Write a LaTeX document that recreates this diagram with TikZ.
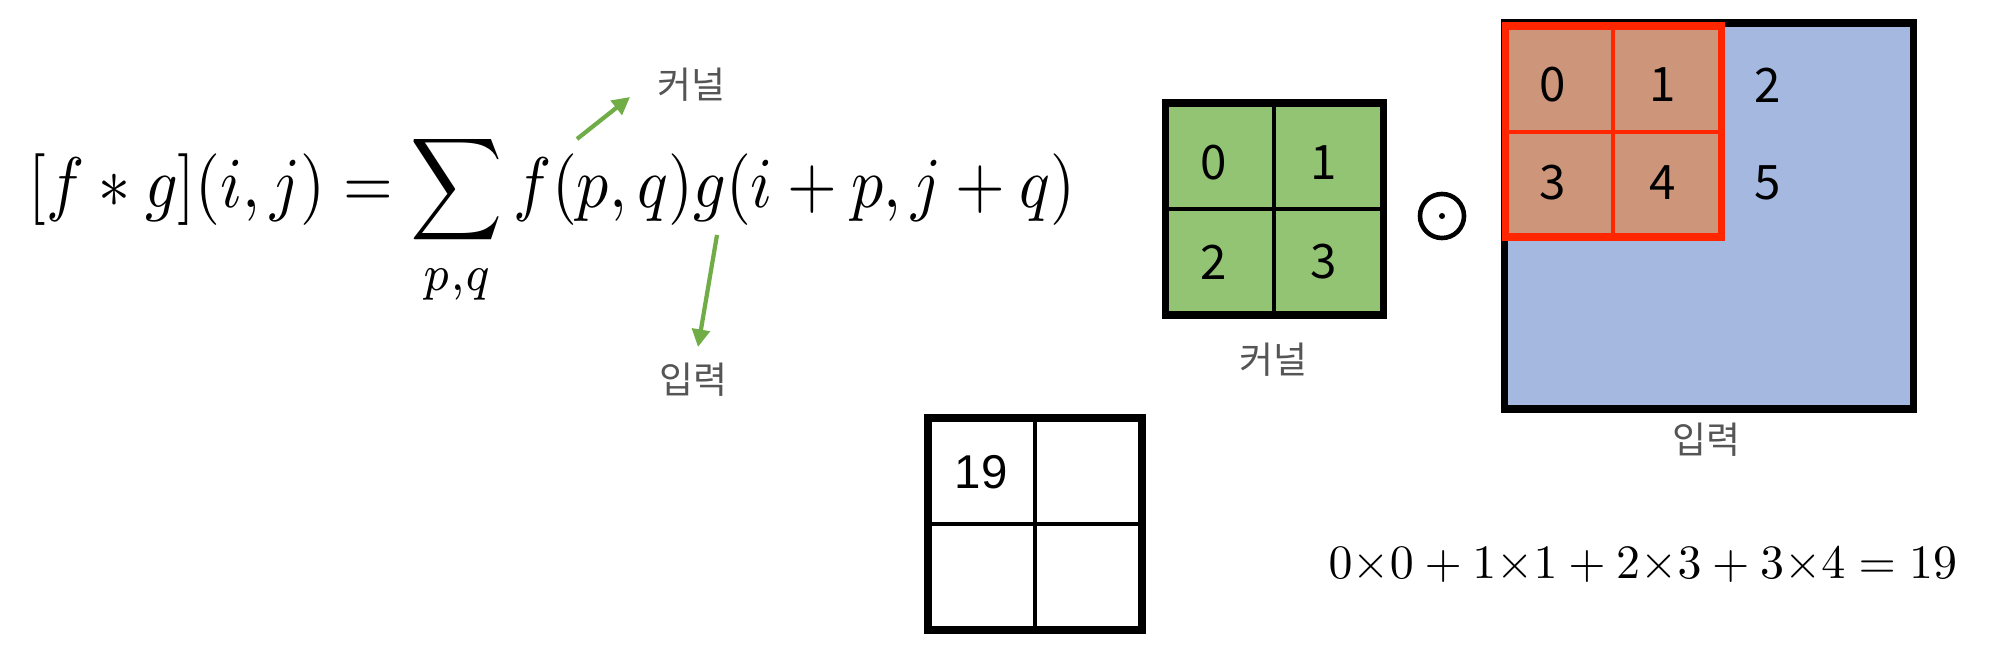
\documentclass[tikz,border=0pt]{standalone}
\usepackage{amsmath}
\usepackage{graphicx}
\usepackage{fontspec}
\newfontfamily\kr{Noto Sans CJK KR}
\newfontfamily\arialfont{Liberation Sans}
\usetikzlibrary{arrows.meta}
\definecolor{kgreen}{RGB}{147,196,116}
\definecolor{iblue}{RGB}{164,184,224}
\definecolor{salmon}{RGB}{205,150,122}
\definecolor{rbox}{RGB}{255,38,0}
\definecolor{agreen}{RGB}{112,173,71}
\definecolor{lgray}{RGB}{85,85,85}
\tikzset{
  digit/.style={font=\kr\fontsize{13.5}{15}\selectfont, inner sep=0pt},
  klabel/.style={font=\kr\fontsize{10.5}{12}\selectfont, text=lgray, inner sep=0pt},
  outer/.style={line width=2pt},
  inner/.style={line width=1.1pt},
  garrow/.style={agreen, line width=1.2pt, -{Triangle[length=5pt,width=5pt]}},
}
\begin{document}
\begin{tikzpicture}[x=0.01cm,y=-0.01cm]
\useasboundingbox[fill=white] (0,0) rectangle (2000,655);

% formula
\node[anchor=base west, inner sep=0pt] (formula) at (28,208)
  {\scalebox{1}[1.12]{\resizebox{10.46cm}{!}{$\displaystyle [f*g](i,j)=\sum_{p,q} f(p,q)g(i+p,j+q)$}}};
\node[klabel] (klab1) at (691,85) {커널};
\node[klabel] (ilab1) at (693,380) {입력};
\coordinate (a1s) at (577,139);
\coordinate (a1e) at (630,97);
\coordinate (a2s) at (717,235);
\coordinate (a2e) at (698,347);
\draw[garrow] (a1s) -- (a1e);
\draw[garrow] (a2s) -- (a2e);

% kernel
\fill[kgreen] (1165,103) rectangle (1383,315);
\draw[inner] (1274,103) -- (1274,315) (1165,209) -- (1383,209);
\draw[outer] (1165,103) rectangle (1383,315);
\node[digit] (k0) at (1214,163) {0};
\node[digit] (k1) at (1324,163) {1};
\node[digit] (k2) at (1214,262) {2};
\node[digit] (k3) at (1324,262) {3};
\node[klabel] (klab2) at (1273,360) {커널};

% odot
\node[circle, draw, line width=1.3pt, minimum size=0.44cm, inner sep=0pt] (odot) at (1442,216) {};
\fill (odot.center) circle (3);

% input
\fill[iblue] (1504,23) rectangle (1913,409);
\draw[outer] (1504,23) rectangle (1913,409);
\fill[salmon] (1505,26) rectangle (1721,237);
\draw[rbox, line width=1.3pt] (1613,26) -- (1613,237) (1505,132) -- (1721,132);
\draw[rbox, line width=2pt] (1505,26) rectangle (1721,237);
\node[digit] (i0) at (1553,85) {0};
\node[digit] (i1) at (1663,85) {1};
\node[digit] (i2) at (1768,85) {2};
\node[digit] (i3) at (1553,183) {3};
\node[digit] (i4) at (1663,183) {4};
\node[digit] (i5) at (1768,183) {5};
\node[klabel] (ilab2) at (1706,440) {입력};

% output
\draw[inner] (1035,418) -- (1035,630) (928,524) -- (1142,524);
\draw[outer] (928,418) rectangle (1142,630);
\node[inner sep=0pt, font=\arialfont\fontsize{13.5}{15}\selectfont] (o19) at (981,472) {19};

% calculation
\node[anchor=base west, inner sep=0pt] (calc) at (1328,578)
  {\resizebox{6.28cm}{!}{$0{\times}0+1{\times}1+2{\times}3+3{\times}4=19$}};
\end{tikzpicture}
\end{document}
